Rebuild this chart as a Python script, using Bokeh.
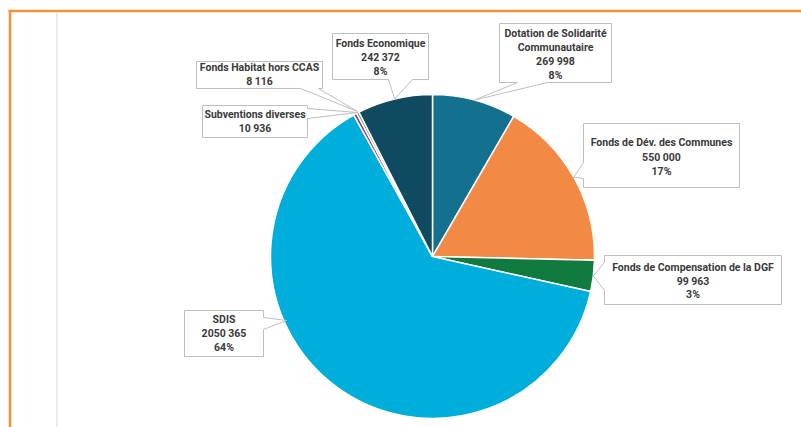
import math
from bokeh.plotting import figure
from bokeh.models import Range1d, ColumnDataSource
from bokeh.core.properties import value
from bokeh.embed import file_html
from bokeh.resources import INLINE

# ---- data (clockwise from 12 o'clock) ----
categories = ["Dotation de Solidarité Communautaire", "Fonds de Dév. des Communes",
              "Fonds de Compensation de la DGF", "SDIS", "Subventions diverses",
              "Fonds Habitat hors CCAS", "Fonds Economique"]
amounts = [269998, 550000, 99963, 2050365, 10936, 8116, 242372]
amount_labels = ["269 998", "550 000", "99 963", "2050 365", "10 936", "8 116", "242 372"]
pct_labels = ["8%", "17%", "3%", "64%", None, None, "8%"]
label_titles = [["Dotation de Solidarité", "Communautaire"], ["Fonds de Dév. des Communes"],
                ["Fonds de Compensation de la DGF"], ["SDIS"], ["Subventions diverses"],
                ["Fonds Habitat hors CCAS"], ["Fonds Economique"]]
colors = ["#13718F", "#F28A46", "#117A3E", "#00AEDC", "#A02B93", "#4EA72E", "#0F4A60"]

W, H = 801, 427
def Y(py):
    return H - py

p = figure(width=W, height=H, output_backend="svg", toolbar_location=None,
           x_range=Range1d(0, W), y_range=Range1d(0, H),
           min_border=0, outline_line_color=None)
p.axis.visible = False
p.grid.visible = False
p.background_fill_color = "white"
p.border_fill_color = "white"

# frame lines
p.line([8, 801], [Y(10.5), Y(10.5)], line_color="#F39237", line_width=2.5)
p.line([9.5, 9.5], [Y(10), Y(430)], line_color="#F39237", line_width=2.5)
p.line([56.5, 56.5], [Y(12), Y(430)], line_color="#D9D9D9", line_width=1)

# pie
cx, cy, R = 432, 256, 162
total = sum(amounts)
starts, ends, mids = [], [], []
acc = 0.0
for v in amounts:
    a0 = acc / total * 2 * math.pi
    acc += v
    a1 = acc / total * 2 * math.pi
    starts.append(math.pi / 2 - a0)
    ends.append(math.pi / 2 - a1)
    mids.append((a0 + a1) / 2)
src = ColumnDataSource(dict(start=starts, end=ends, color=colors, cat=categories))
p.wedge(x=cx, y=Y(cy), radius=R, start_angle="start", end_angle="end", direction="clock",
        fill_color="color", line_color="white", line_width=1.5, source=src)

def edge(i):
    a = mids[i]
    return (cx + R * math.sin(a), cy - R * math.cos(a))

def callout(x0, y0, x1, y1, side, a, b, tip):
    if side == "bottom":
        pts = [(x0, y0), (x1, y0), (x1, y1), (b, y1), tip, (a, y1), (x0, y1)]
    elif side == "left":
        pts = [(x0, y0), (x1, y0), (x1, y1), (x0, y1), (x0, b), tip, (x0, a)]
    else:
        pts = [(x0, y0), (x1, y0), (x1, a), tip, (x1, b), (x1, y1), (x0, y1)]
    p.patch([q[0] for q in pts], [Y(q[1]) for q in pts], fill_color="white",
            line_color="#BFBFBF", line_width=1)

layout = [
    ((499, 23, 611, 82), "bottom", 517, 547, edge(0), 33, 14),
    ((583, 123, 739, 187), "left", 162, 178, edge(1), 142, 14.5),
    ((604, 255, 781, 304), "left", 262, 290, edge(2), 267, 13.5),
    ((184, 310, 263, 356), "right", 317, 329, (286, 320), 319, 14),
    ((202, 105, 307, 137), "right", 108, 118, (357, 112), 114, 14),
    ((196, 61, 322, 88), "bottom", 300, 318, (357, 111), 67, 13.5),
    ((332, 33, 428, 79), "bottom", 388, 412, edge(6), 43, 14),
]

for i, (box, side, a, b, tip, ty, step) in enumerate(layout):
    x0, y0, x1, y1 = box
    callout(x0, y0, x1, y1, side, a, b, tip)
    lines = list(label_titles[i]) + [amount_labels[i]]
    if pct_labels[i]:
        lines.append(pct_labels[i])
    xc = (x0 + x1) / 2
    p.text(x=[xc] * len(lines), y=[Y(ty + k * step) for k in range(len(lines))], text=lines,
           text_align="center", text_baseline="middle", text_font=value("Roboto"),
           text_font_style="bold", text_font_size="10.5px", text_color="#3A3A3A")

open("out.html", "w").write(file_html(p, INLINE))
